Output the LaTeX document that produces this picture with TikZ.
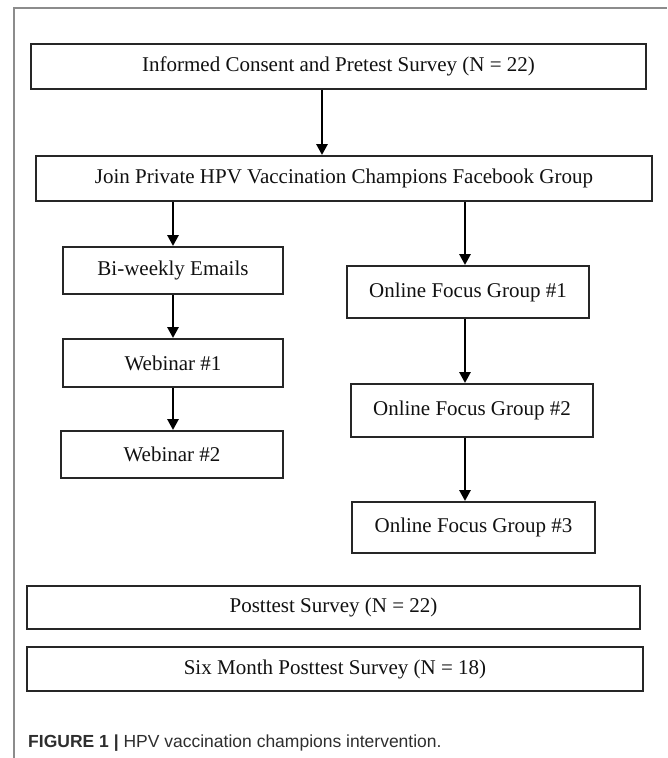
\documentclass[tikz,border=0pt]{standalone}
\usepackage{fontspec}
\setmainfont{Liberation Serif}
\newfontfamily\capfont{Liberation Sans}
\usetikzlibrary{arrows.meta}
\definecolor{boxc}{HTML}{262626}
\definecolor{txtc}{HTML}{111111}
\definecolor{framec}{HTML}{8C8C8C}
\definecolor{capc}{HTML}{2E2E2E}
\tikzset{
  flowbox/.style={draw=boxc, line width=1.9pt, inner sep=0pt, text=txtc,
    font=\fontsize{21}{25}\selectfont},
  flowarrow/.style={draw=black, line width=2.7pt, -{Triangle[width=11pt,length=11pt]}},
  framestroke/.style={draw=framec, line width=1.4pt}
}
\begin{document}
\begin{tikzpicture}[x=1pt,y=-1pt]
\useasboundingbox (0,0) rectangle (667,758);
\draw[framestroke] (14,758) -- (14,8) -- (667,8);

\node[flowbox, minimum width=615pt, minimum height=45pt] (consent) at (338.5,66.5) {Informed Consent and Pretest Survey (N = 22)};
\node[flowbox, minimum width=616pt, minimum height=45pt] (join) at (344,178.5) {Join Private HPV Vaccination Champions Facebook Group};

\node[flowbox, minimum width=220pt, minimum height=47pt] (emails) at (173,270.5) {Bi-weekly Emails};
\node[flowbox, minimum width=220pt, minimum height=48pt] (web1) at (173,363) {Webinar \#1};
\node[flowbox, minimum width=222pt, minimum height=47pt] (web2) at (172,454.5) {Webinar \#2};

\node[flowbox, minimum width=242pt, minimum height=52pt] (fg1) at (468,292) {Online Focus Group \#1};
\node[flowbox, minimum width=242pt, minimum height=53pt] (fg2) at (472,410.5) {Online Focus Group \#2};
\node[flowbox, minimum width=243pt, minimum height=51pt] (fg3) at (473.5,527.5) {Online Focus Group \#3};

\node[flowbox, minimum width=613pt, minimum height=43pt] (post) at (333.5,607.5) {Posttest Survey (N = 22)};
\node[flowbox, minimum width=616pt, minimum height=44pt] (six) at (335,669) {Six Month Posttest Survey (N = 18)};

\coordinate (ax) at (322,0);
\coordinate (lx) at (173,0);
\coordinate (rx) at (465,0);

\draw[flowarrow] (consent.south -| ax) -- (join.north -| ax);
\draw[flowarrow] (join.south -| lx) -- (emails.north -| lx);
\draw[flowarrow] (emails.south -| lx) -- (web1.north -| lx);
\draw[flowarrow] (web1.south -| lx) -- (web2.north -| lx);
\draw[flowarrow] (join.south -| rx) -- (fg1.north -| rx);
\draw[flowarrow] (fg1.south -| rx) -- (fg2.north -| rx);
\draw[flowarrow] (fg2.south -| rx) -- (fg3.north -| rx);

\node[anchor=base west, inner sep=0pt, text=capc, font=\capfont\fontsize{17.5}{20}\selectfont] (caption) at (28,747) {\textbf{FIGURE 1 |} HPV vaccination champions intervention.};
\end{tikzpicture}
\end{document}
